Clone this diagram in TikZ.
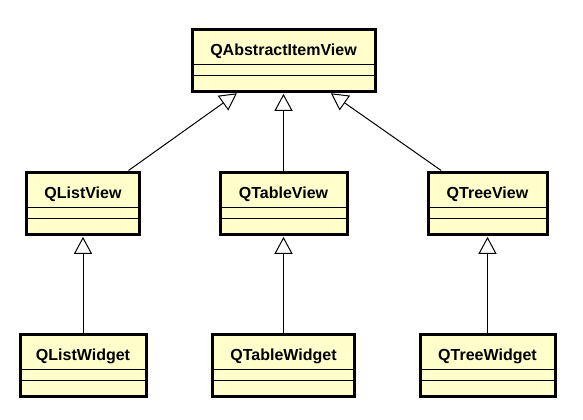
\documentclass[tikz,border=0pt]{standalone}
\usepackage{fontspec}
\setmainfont{Liberation Sans}
\usepackage{tikz}
\usetikzlibrary{arrows.meta}
\definecolor{classfill}{HTML}{FFFFCC}
\definecolor{classline}{HTML}{000000}

\begin{document}
\begin{tikzpicture}[x=0.75pt, y=-0.75pt, font=\fontsize{12}{14}\selectfont\bfseries,
  umlclass/.style={draw=classline, line width=2.25pt, fill=classfill, inner sep=0pt,
    text height=19.5pt, text depth=27pt, minimum width=#1*0.75pt,
    path picture={
      \draw[line width=0.75pt] ([yshift=12pt]path picture bounding box.south west) -- ([yshift=12pt]path picture bounding box.south east);
      \draw[line width=0.75pt] ([yshift=20.25pt]path picture bounding box.south west) -- ([yshift=20.25pt]path picture bounding box.south east);
    }},
  inherits/.style={-{Triangle[open, fill=white, length=12.75pt, width=13.5pt]}, line width=0.75pt, shorten >=1pt}]
  \useasboundingbox (0,0) rectangle (583,419);
  \node[umlclass=183] (aiv) at (283.5,60) {QAbstractItemView};
  \node[umlclass=113] (lv) at (83,203) {QListView};
  \node[umlclass=127] (tv) at (283.5,203) {QTableView};
  \node[umlclass=119] (trv) at (487.5,203) {QTreeView};
  \node[umlclass=126] (lw) at (83,365) {QListWidget};
  \node[umlclass=142] (tw) at (283.5,365) {QTableWidget};
  \node[umlclass=135] (trw) at (487.5,365) {QTreeWidget};
  \draw[inherits] (lv) -- (aiv);
  \draw[inherits] (tv) -- (aiv);
  \draw[inherits] (trv) -- (aiv);
  \draw[inherits] (lw) -- (lv);
  \draw[inherits] (tw) -- (tv);
  \draw[inherits] (trw) -- (trv);
\end{tikzpicture}
\end{document}
